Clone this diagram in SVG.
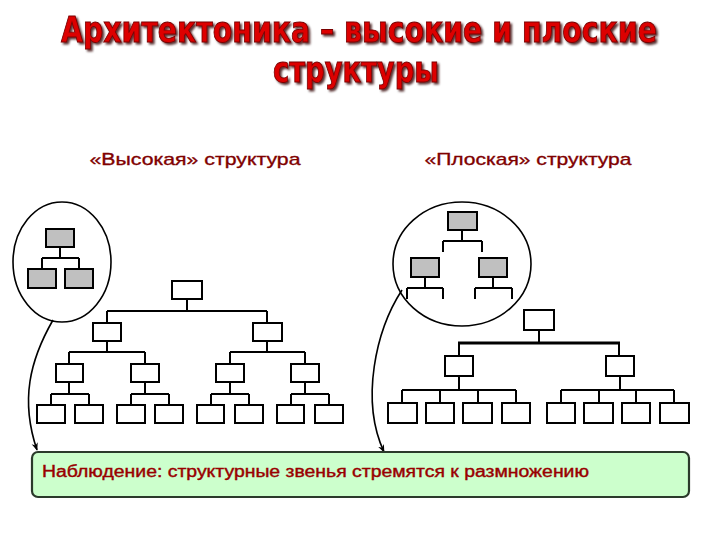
<svg xmlns="http://www.w3.org/2000/svg" width="720" height="540" viewBox="0 0 720 540">
<style>
.box{fill:#ffffff;stroke:#000;stroke-width:2}
.gbox{fill:#c0c0c0;stroke:#000;stroke-width:2}
.ln{fill:none;stroke:#000;stroke-width:2}
.ell{fill:#ffffff;stroke:#000;stroke-width:1.6}
.sub{font-family:"Liberation Sans",Arial,sans-serif;font-size:17px;fill:#800000;stroke:#800000;stroke-width:0.35}
.title{font-family:"Liberation Sans Narrow","DejaVu Sans Condensed","Liberation Sans",sans-serif;font-weight:bold;font-size:31px;fill:#dd0000;stroke:#7a0000;stroke-width:0.8}
.note{font-family:"Liberation Sans",Arial,sans-serif;font-size:16px;fill:#990000;stroke:#990000;stroke-width:0.4}
</style>
<defs>
<filter id="sh" x="-10%" y="-30%" width="120%" height="170%">
<feDropShadow dx="2" dy="2" stdDeviation="0.8" flood-color="#300000" flood-opacity="0.8"/>
</filter>
<marker id="arr" viewBox="0 0 10 10" refX="9" refY="5" markerWidth="8" markerHeight="8" orient="auto" markerUnits="userSpaceOnUse">
<path d="M0,1 L10,5 L0,9 L3,5 z" fill="#000"/>
</marker>
</defs>
<rect width="720" height="540" fill="#ffffff"/>

<g id="title" filter="url(#sh)">
<g transform="scale(1,1.13)">
<text class="title" x="359" y="37.2" text-anchor="middle" textLength="596" lengthAdjust="spacingAndGlyphs">Архитектоника – высокие и плоские</text>
<text class="title" x="356" y="72.6" text-anchor="middle" textLength="166" lengthAdjust="spacingAndGlyphs">структуры</text>
</g>
</g>

<g id="subtitles">
<text class="sub" x="195" y="165" text-anchor="middle" textLength="211" lengthAdjust="spacingAndGlyphs">«Высокая» структура</text>
<text class="sub" x="528" y="165" text-anchor="middle" textLength="207" lengthAdjust="spacingAndGlyphs">«Плоская» структура</text>
</g>

<g id="inset-tall">
<ellipse class="ell" cx="62" cy="262" rx="49" ry="60"/>
<path class="ln" d="M60,247 V258 M42,258 H79 M42,258 V269 M79,258 V269"/>
<rect class="gbox" x="46" y="229" width="28" height="18"/>
<rect class="gbox" x="28" y="269" width="28" height="19"/>
<rect class="gbox" x="65" y="269" width="28" height="19"/>
</g>
<g id="inset-flat">
<ellipse class="ell" cx="462" cy="264" rx="69" ry="62"/>
<path class="ln" d="M462,230 V241 M443,241 H482 M443,241 V252 M482,241 V252 M425,277 V288 M407,288 H443 M407,288 V299 M443,288 V299 M493,277 V288 M475,288 H512 M475,288 V299 M512,288 V299"/>
<rect class="gbox" x="448" y="212" width="29" height="18"/>
<rect class="gbox" x="411" y="258" width="28" height="19"/>
<rect class="gbox" x="479" y="258" width="28" height="19"/>
</g>

<g id="connectors">
<path class="ln" d="M187,299 V311 M107,311 H267 M107,311 V323 M267,311 V323
M107,341 V352 M69,352 H145 M69,352 V364 M145,352 V364
M267,341 V352 M230,352 H305 M230,352 V364 M305,352 V364
M69,382 V394 M51,394 H89 M51,394 V405 M89,394 V405
M145,382 V394 M131,394 H169 M131,394 V405 M169,394 V405
M230,382 V394 M211,394 H249 M211,394 V405 M249,394 V405
M305,382 V394 M291,394 H329 M291,394 V405 M329,394 V405"/>
<path class="ln" d="M539,330 V343 M459,343 V356 M619,343 V356
M459,376 V390 M402,390 H516 M402,390 V403 M440,390 V403 M478,390 V403 M516,390 V403
M620,376 V390 M561,390 H674 M561,390 V403 M599,390 V403 M636,390 V403 M674,390 V403"/>
<path d="M458,343 H620" fill="none" stroke="#000" stroke-width="3"/>
<path d="M53,320 C30,360 20,400 37,450" fill="none" stroke="#000" stroke-width="1.6" marker-end="url(#arr)"/>
<path d="M402,290 C376,330 360,400 384,452" fill="none" stroke="#000" stroke-width="1.6" marker-end="url(#arr)"/>
</g>

<g id="tall-tree">
<g id="t0"><rect class="box" x="172" y="281" width="30" height="18"/></g>
<g id="t1a"><rect class="box" x="93" y="323" width="28" height="18"/></g>
<g id="t1b"><rect class="box" x="253" y="323" width="29" height="18"/></g>
<g id="t2a"><rect class="box" x="56" y="364" width="27" height="18"/></g>
<g id="t2b"><rect class="box" x="131" y="364" width="28" height="18"/></g>
<g id="t2c"><rect class="box" x="216" y="364" width="28" height="18"/></g>
<g id="t2d"><rect class="box" x="291" y="364" width="28" height="18"/></g>
<g id="t3a"><rect class="box" x="37" y="405" width="28" height="18"/></g>
<g id="t3b"><rect class="box" x="75" y="405" width="28" height="18"/></g>
<g id="t3c"><rect class="box" x="117" y="405" width="28" height="18"/></g>
<g id="t3d"><rect class="box" x="155" y="405" width="28" height="18"/></g>
<g id="t3e"><rect class="box" x="197" y="405" width="27" height="18"/></g>
<g id="t3f"><rect class="box" x="235" y="405" width="28" height="18"/></g>
<g id="t3g"><rect class="box" x="277" y="405" width="27" height="18"/></g>
<g id="t3h"><rect class="box" x="315" y="405" width="28" height="18"/></g>
</g>

<g id="flat-tree">
<g id="f0"><rect class="box" x="524" y="310" width="30" height="20"/></g>
<g id="f1a"><rect class="box" x="445" y="356" width="28" height="20"/></g>
<g id="f1b"><rect class="box" x="606" y="356" width="28" height="20"/></g>
<g id="f2a"><rect class="box" x="388" y="403" width="29" height="20"/></g>
<g id="f2b"><rect class="box" x="426" y="403" width="28" height="20"/></g>
<g id="f2c"><rect class="box" x="463" y="403" width="29" height="20"/></g>
<g id="f2d"><rect class="box" x="502" y="403" width="28" height="20"/></g>
<g id="f2e"><rect class="box" x="547" y="403" width="28" height="20"/></g>
<g id="f2f"><rect class="box" x="584" y="403" width="29" height="20"/></g>
<g id="f2g"><rect class="box" x="622" y="403" width="28" height="20"/></g>
<g id="f2h"><rect class="box" x="660" y="403" width="29" height="20"/></g>
</g>

<g id="note">
<rect x="32" y="452" width="657" height="45" rx="6" ry="6" fill="#ccffcc" stroke="#2b3a2b" stroke-width="2.2"/>
<text class="note" x="42" y="477" textLength="547" lengthAdjust="spacingAndGlyphs">Наблюдение: структурные звенья стремятся к размножению</text>
</g>
</svg>
